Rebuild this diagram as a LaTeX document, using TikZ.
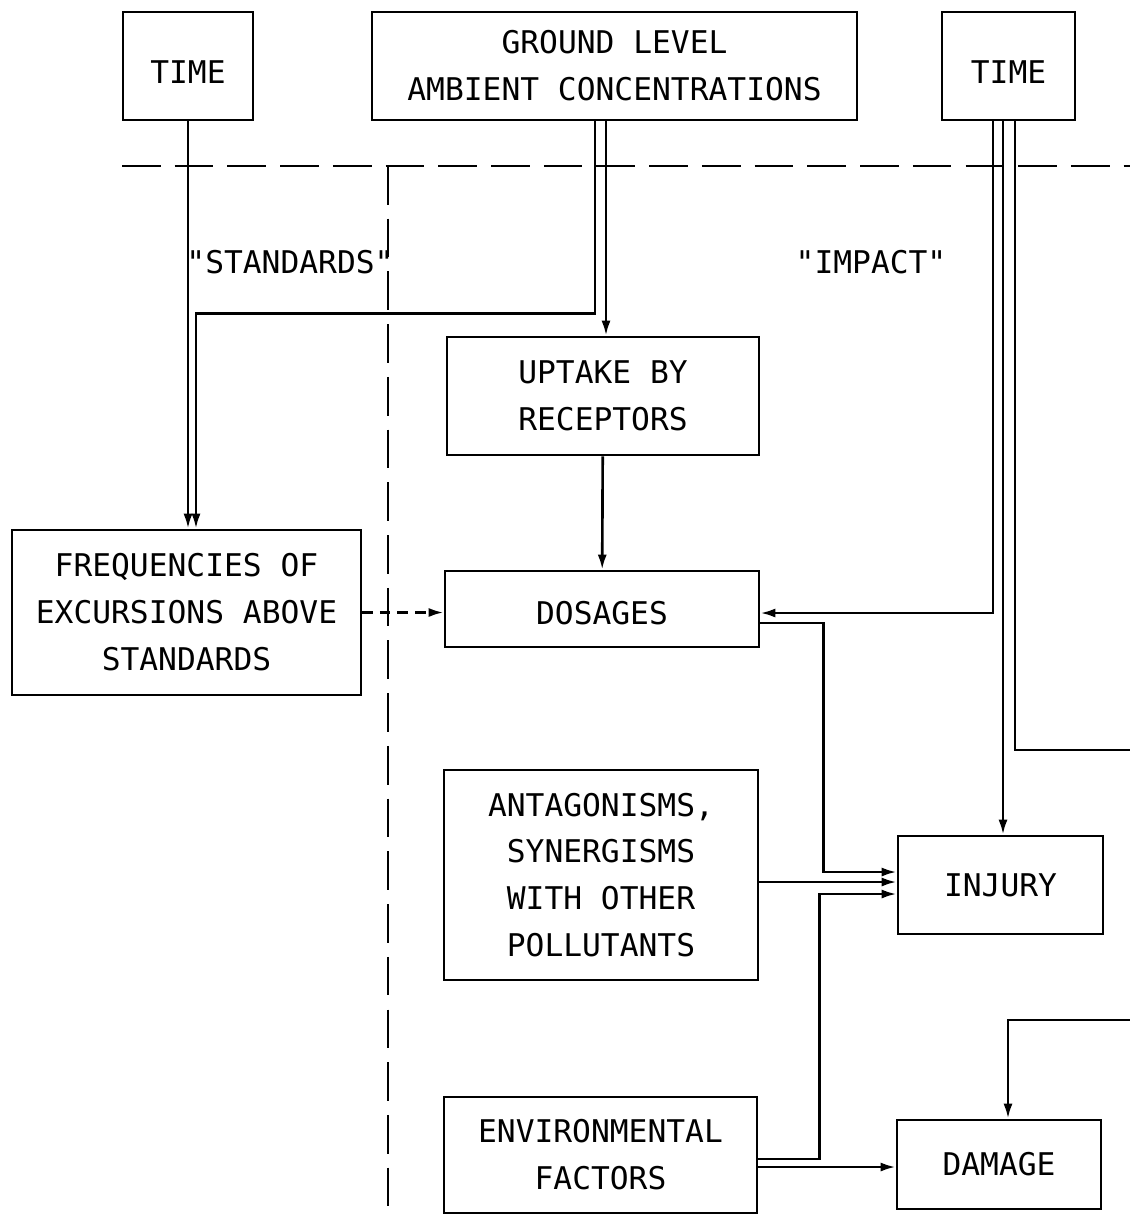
\documentclass[tikz,border=0pt]{standalone}
\usepackage{fontspec}
\newfontfamily\plotfont{DejaVu Sans Mono}
\usetikzlibrary{arrows.meta}
\begin{document}
\begin{tikzpicture}[line width=1.5pt, x=0.2mm, y=-0.2mm, >={Latex[length=3mm,width=1.8mm]},
box/.style={draw, rectangle, align=center, inner sep=0pt, font=\plotfont\fontsize{17.8}{26.7}\selectfont},
lbl/.style={font=\plotfont\fontsize{17.8}{26.7}\selectfont},
sep/.style={dash pattern=on 22pt off 8pt}]
\useasboundingbox (0,0) rectangle (1130,1215);
\node[box, minimum width=26mm, minimum height=21.6mm, text height=7mm] (timeL) at (188,66) {TIME};
\node[box, minimum width=97mm, minimum height=21.6mm] (ground) at (614.5,66) {GROUND LEVEL\\AMBIENT CONCENTRATIONS};
\node[box, minimum width=26.6mm, minimum height=21.6mm, text height=7mm] (timeR) at (1008.5,66) {TIME};
\node[box, minimum width=62.4mm, minimum height=23.6mm] (uptake) at (603,396) {UPTAKE BY\\RECEPTORS};
\node[box, minimum width=69.8mm, minimum height=33mm] (freq) at (186.5,612.5) {FREQUENCIES OF\\EXCURSIONS ABOVE\\STANDARDS};
\node[box, minimum width=62.8mm, minimum height=15.2mm, text height=6.2mm] (dosages) at (602,609) {DOSAGES};
\node[box, minimum width=62.8mm, minimum height=42mm] (antag) at (601,875) {ANTAGONISMS,\\SYNERGISMS\\WITH OTHER\\POLLUTANTS};
\node[box, minimum width=41mm, minimum height=19.6mm] (injury) at (1000.5,885) {INJURY};
\node[box, minimum width=62.6mm, minimum height=23.2mm] (envir) at (600.5,1155) {ENVIRONMENTAL\\FACTORS};
\node[box, minimum width=40.8mm, minimum height=17.8mm] (damage) at (999,1164.5) {DAMAGE};
\node[lbl] (standards) at (290,262) {"STANDARDS"};
\node[lbl] (impact) at (871,262) {"IMPACT"};
\coordinate (sepL) at (122,166);
\coordinate (sepR) at (1130,166);
\coordinate (sepT) at (388,166);
\coordinate (sepB) at (388,1215);
\coordinate (outA) at (1130,750);
\coordinate (outB) at (1130,1020);
\draw[sep] (sepL) -- (sepR);
\draw[sep] (sepT) -- (sepB);
\draw[->] (timeL.south) -- (timeL.south |- freq.north);
\draw[->] ([xshift=-3.9mm]ground.south) -- ++(0,192) -| ([xshift=1.9mm]freq.north);
\draw[->] ([xshift=-1.7mm]ground.south) coordinate (gdown) -- (gdown |- uptake.north);
\draw[->] (uptake) -- (dosages);
\draw[->, dash pattern=on 6pt off 4pt] (freq.east) -- (freq.east -| dosages.west);
\draw[<-] ([yshift=-0.8mm]dosages.east) coordinate (dtime) -| ([xshift=-3.1mm]timeR.south);
\draw[->] ([xshift=-1.1mm]timeR.south) coordinate (tdown) -- (tdown |- injury.north);
\draw ([xshift=1.3mm]timeR.south) |- (outA);
\draw[->] (outB) -| ([xshift=1.8mm]damage.north);
\draw[->] ([yshift=-2.8mm]dosages.east) -- ++(63,0) |- ([yshift=2.6mm]injury.west);
\draw[<-] ([yshift=0.6mm]injury.west) coordinate (inj2) -- (inj2 -| antag.east);
\draw[->] ([yshift=-0.8mm]envir.east) -- ++(61,0) |- ([yshift=-1.8mm]injury.west);
\draw[<-] ([yshift=-0.5mm]damage.west) coordinate (dmg) -- (dmg -| envir.east);
\end{tikzpicture}
\end{document}
